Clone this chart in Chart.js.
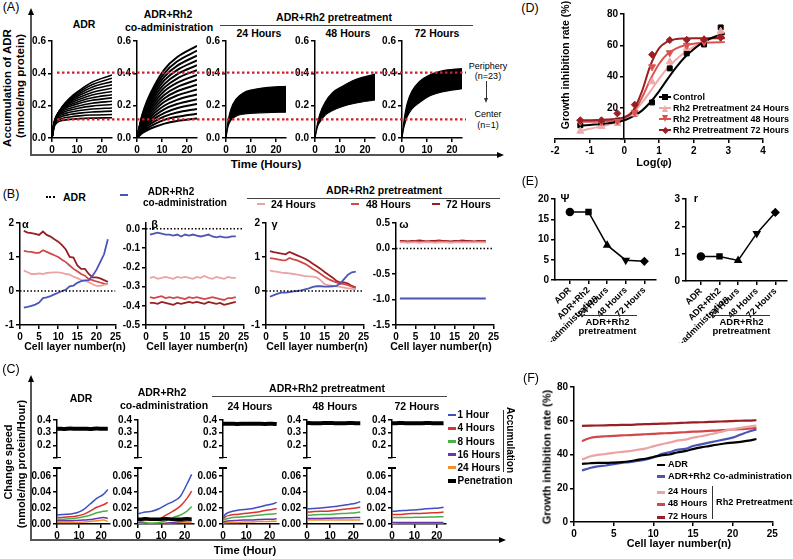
<!DOCTYPE html>
<html><head><meta charset="utf-8"><title>ADR penetration figure</title>
<script src="https://cdn.jsdelivr.net/npm/chart.js"></script>
<style>
html,body{margin:0;padding:0;background:#fff}
body{position:relative;width:793px;height:559px;overflow:hidden}
canvas{position:absolute}
.t{position:absolute;white-space:nowrap;line-height:1;color:#000;font-family:'Liberation Sans',Arial,Helvetica,sans-serif}
</style></head><body>
<script>
/* ================= DATA ================= */
// (A) accumulation of ADR (nmole/mg protein) vs time (h); one row per cell-layer curve
const aTime=[0,0.5,1,2,4,7,11,16,24];
const aXTicks=[0,10,20];
const aYTicks=[0,0.2,0.4,0.6];
const aRefPeriphery=0.405;
const aRefCenter=0.115;
const adrCurves=[
[0,.050,.075,.095,.108,.115,.120,.123,.125],
[0,.055,.083,.105,.121,.130,.137,.142,.145],
[0,.059,.089,.115,.134,.145,.154,.161,.166],
[0,.062,.095,.123,.145,.159,.170,.179,.186],
[0,.064,.099,.130,.155,.172,.186,.197,.207],
[0,.065,.102,.135,.163,.183,.200,.215,.227],
[0,.065,.104,.140,.171,.195,.215,.233,.248],
[0,.064,.104,.142,.177,.204,.228,.249,.268],
[0,.062,.103,.143,.182,.213,.240,.266,.288],
[0,.060,.101,.143,.186,.221,.252,.282,.308],
[0,.057,.097,.142,.189,.229,.264,.299,.329],
[0,.052,.093,.139,.190,.235,.275,.314,.349],
[0,.047,.087,.135,.191,.241,.286,.330,.370],
[0,.040,.080,.130,.190,.245,.295,.345,.390]];
const coCurves=[
[0,.008,.015,.029,.048,.068,.089,.105,.12],
[0,.010,.019,.036,.060,.086,.112,.131,.15],
[0,.012,.023,.043,.072,.103,.134,.158,.18],
[0,.014,.026,.050,.084,.120,.156,.184,.21],
[0,.016,.030,.058,.096,.137,.179,.210,.24],
[0,.018,.034,.065,.108,.154,.201,.236,.27],
[0,.020,.038,.072,.120,.171,.224,.263,.30],
[0,.021,.041,.079,.132,.188,.246,.289,.33],
[0,.023,.045,.086,.144,.205,.268,.315,.36],
[0,.025,.049,.094,.156,.222,.291,.341,.39],
[0,.027,.053,.101,.168,.239,.313,.368,.42],
[0,.029,.056,.108,.180,.257,.335,.394,.45],
[0,.031,.060,.115,.192,.274,.358,.420,.48],
[0,.033,.064,.122,.204,.291,.380,.446,.51],
[0,.035,.068,.130,.216,.308,.402,.473,.54],
[0,.037,.071,.137,.228,.325,.425,.499,.57]];
const pre24Low=[0,.05,.08,.11,.135,.148,.153,.157,.16];
const pre24High=[0,.07,.12,.18,.24,.28,.30,.312,.32];
const pre48Low=[0,.04,.07,.10,.14,.17,.195,.215,.235];
const pre48High=[0,.05,.09,.15,.22,.28,.32,.36,.395];
const pre72Low=[0,.05,.08,.13,.18,.22,.26,.285,.305];
const pre72High=[0,.07,.13,.21,.29,.35,.39,.415,.43];

// (B) parameters vs cell layer number
const bLayers=[1,2,3,4,5,6,7,8,9,10,11,12,13,14,15,16,17,18,19,20,21,22,23];
const bXTicks=[0,5,10,15,20,25];
const bAdrX=[0,25], bAdrY=[0,0];
const bAlphaCo=[-0.49,-0.47,-0.44,-0.40,-0.34,-0.21,-0.19,-0.15,-0.10,-0.05,0.00,0.04,0.14,0.16,0.24,0.29,0.31,0.32,0.45,0.62,0.85,1.08,1.52];
const bAlpha24=[0.60,0.55,0.50,0.50,0.52,0.50,0.53,0.54,0.55,0.55,0.53,0.50,0.48,0.42,0.38,0.33,0.30,0.26,0.20,0.15,0.15,0.18,0.20];
const bAlpha48=[1.18,1.16,1.15,1.12,1.12,1.20,1.15,1.10,1.05,1.00,0.92,0.85,0.75,0.65,0.58,0.50,0.45,0.35,0.32,0.28,0.25,0.22,0.20];
const bAlpha72=[1.77,1.72,1.70,1.68,1.65,1.75,1.65,1.60,1.52,1.45,1.35,1.22,1.00,0.98,0.75,0.65,0.65,0.50,0.40,0.40,0.37,0.32,0.27];
const bBetaCo=[-0.030,-0.025,-0.020,-0.025,-0.030,-0.030,-0.035,-0.030,-0.040,-0.030,-0.035,-0.030,-0.035,-0.040,-0.035,-0.030,-0.040,-0.045,-0.040,-0.045,-0.045,-0.040,-0.040];
const bBeta24=[-0.255,-0.250,-0.260,-0.255,-0.250,-0.255,-0.260,-0.250,-0.255,-0.250,-0.255,-0.260,-0.250,-0.255,-0.245,-0.255,-0.260,-0.250,-0.255,-0.260,-0.250,-0.255,-0.255];
const bBeta48=[-0.355,-0.360,-0.355,-0.350,-0.360,-0.355,-0.360,-0.355,-0.360,-0.365,-0.355,-0.360,-0.355,-0.360,-0.365,-0.360,-0.355,-0.360,-0.365,-0.370,-0.360,-0.360,-0.355];
const bBeta72=[-0.385,-0.385,-0.390,-0.380,-0.385,-0.390,-0.395,-0.385,-0.390,-0.385,-0.380,-0.385,-0.380,-0.385,-0.390,-0.380,-0.385,-0.390,-0.385,-0.395,-0.390,-0.385,-0.380];
const bGammaCo=[-0.17,-0.12,-0.08,-0.05,-0.05,-0.03,-0.01,0.00,0.02,0.05,0.08,0.12,0.14,0.14,0.13,0.13,0.14,0.15,0.22,0.35,0.48,0.55,0.57];
const bGamma24=[0.60,0.58,0.56,0.54,0.53,0.52,0.50,0.48,0.46,0.44,0.43,0.42,0.40,0.32,0.20,0.17,0.15,0.14,0.12,0.10,0.08,0.06,0.05];
const bGamma48=[0.97,0.95,0.93,0.91,0.90,0.97,0.93,0.90,0.85,0.80,0.73,0.65,0.58,0.50,0.42,0.35,0.30,0.25,0.22,0.20,0.17,0.13,0.08];
const bGamma72=[1.17,1.14,1.12,1.10,1.08,1.15,1.10,1.05,1.00,0.95,0.88,0.80,0.73,0.65,0.56,0.48,0.40,0.30,0.25,0.25,0.22,0.15,0.10];
const bOmegaCo=[-0.98,-0.98,-0.98,-0.98,-0.98,-0.98,-0.98,-0.98,-0.98,-0.98,-0.98,-0.98,-0.98,-0.98,-0.98,-0.98,-0.98,-0.98,-0.98,-0.98,-0.98,-0.98,-0.98];
const bOmega24=[0.12,0.12,0.11,0.12,0.12,0.11,0.12,0.12,0.12,0.11,0.12,0.12,0.12,0.11,0.12,0.12,0.12,0.12,0.12,0.12,0.12,0.12,0.12];
const bOmega48=[0.13,0.14,0.13,0.13,0.14,0.13,0.13,0.14,0.13,0.13,0.14,0.13,0.14,0.13,0.13,0.14,0.13,0.13,0.14,0.13,0.13,0.14,0.13];
const bOmega72=[0.15,0.15,0.14,0.15,0.15,0.16,0.15,0.14,0.15,0.15,0.16,0.15,0.15,0.14,0.15,0.15,0.16,0.15,0.15,0.14,0.15,0.15,0.15];

// (C) change speed vs time; rows: 1 h, 4 h, 8 h, 16 h, 24 h accumulation
const cTime=[0,1,3,6,9,12,15,18,21,23];
const cSeriesNames=['1 Hour','4 Hours','8 Hours','16 Hours','24 Hours','Penetration'];
const cAccADR=[
[.0115,.0115,.012,.0125,.014,.018,.025,.032,.037,.043],
[.008,.008,.0085,.009,.010,.012,.016,.021,.024,.027],
[.006,.006,.006,.0065,.0075,.009,.011,.014,.016,.0165],
[.004,.004,.004,.004,.0045,.005,.0055,.007,.008,.007],
[.002,.002,.002,.002,.002,.0025,.003,.004,.005,.003]];
const cPenADR=[.33,.331,.329,.332,.33,.331,.329,.332,.33,.33];
const cAccCo=[
[.013,.0135,.015,.016,.019,.024,.028,.034,.05,.062],
[.005,.005,.005,.005,.006,.011,.016,.022,.032,.041],
[.003,.003,.002,.001,.002,.004,.008,.011,.016,.022],
[.002,.002,.001,0,0,.001,.002,.003,.004,.004],
[.001,.001,.001,.001,.001,.001,.0015,.002,.002,.002]];
const cPenCo=[.006,.006,.0065,.006,.006,.0065,.006,.006,.0065,.006];
const cAcc24=[
[.008,.012,.015,.017,.018,.019,.021,.023,.025,.027],
[.006,.009,.011,.012,.013,.014,.015,.017,.018,.0195],
[.004,.006,.0075,.0085,.009,.010,.011,.012,.0125,.013],
[.002,.003,.004,.0045,.005,.005,.0055,.006,.006,.0065],
[.001,.0015,.002,.002,.0025,.0025,.003,.003,.0035,.0035]];
const cPen24=[.37,.37,.371,.369,.37,.371,.37,.369,.37,.368];
const cAcc48=[
[.019,.019,.0195,.020,.021,.022,.023,.0245,.026,.028],
[.015,.015,.0155,.016,.016,.017,.018,.019,.020,.021],
[.011,.011,.0115,.012,.012,.0125,.013,.0135,.014,.015],
[.007,.007,.007,.007,.0072,.0075,.0075,.0078,.008,.008],
[.005,.005,.005,.005,.005,.005,.005,.005,.005,.005]];
const cPen48=[.375,.376,.374,.375,.376,.375,.374,.376,.375,.375];
const cAcc72=[
[.016,.016,.0165,.017,.0175,.018,.019,.0195,.020,.021],
[.012,.012,.012,.0125,.013,.013,.0135,.014,.0145,.015],
[.008,.008,.008,.008,.0082,.0085,.0085,.0088,.009,.009],
[.002,.002,.002,.002,.002,.002,.002,.002,.002,.002],
[.0005,.0003,0,0,0,0,0,0,0,0]];
const cPen72=[.375,.374,.376,.375,.375,.374,.376,.375,.374,.375];

// (D) growth inhibition vs Log(phi)
const dPtX=[-1.27,-0.66,-0.2,0.3,0.8,1.31,1.8,2.3,2.78];
const dCtrlY=[8.8,10.2,11.7,16.2,23.4,45.2,54.8,60.5,71.4];
const d24Y=[5,8,10,16,36.6,49.4,58,64,69];
const d48Y=[11,11,11.5,17,46.2,55.2,60,62,64.7];
const d72Y=[12,12,16.4,22,54,63.3,63.5,63.7,65];
const dFitX=[-1.3,-1,-0.5,0,0.25,0.5,0.75,1,1.25,1.5,1.75,2,2.25,2.5,2.9];
const dFitCtrl=[8.5,9,10,12,14.5,18,23.5,30.5,38.5,46,52.5,57.5,61.5,64.5,67.5];
const dFit24=[5,6.5,9,13,17,23,30.5,38.5,45.5,51,55.5,59,62,64.5,68];
const dFit48=[11,11,11.5,13.5,17,26,38,48,54.5,58,60,61,61.5,61.8,62];
const dFit72=[12,12,12.5,14,18,30,47,58,62.5,64,64.3,64.5,64.5,64.5,64.5];
const dXTicks=[-2,-1,0,1,2,3,4];
const dYTicks=[0,20,40,60,80];
const dYLabels=['','20','40','60','80'];
const dLegend=['Control','Rh2 Pretreatment 24 Hours','Rh2 Pretreatment 48 Hours','Rh2 Pretreatment 72 Hours'];

// (E) psi and r per condition
const eCats=['ADR',['ADR+Rh2','Co-administration'],'24 Hours','48 Hours','72 Hours'];
const ePos=[0,1,2,3,4];
const ePsi=[16.8,16.8,8.6,4.9,4.6];
const eR=[0.9,0.9,0.75,1.74,2.51];

// (F) growth inhibition vs cell layer
const fLayers=[1,2,3,4,5,6,7,8,9,10,11,12,13,14,15,16,17,18,19,20,21,22,23];
const fADR=[34.5,34.8,35.0,35.0,35.2,35.5,36.0,36.8,37.5,38.5,39.5,40.0,41.2,42.0,43.2,44.2,45.0,45.8,46.5,47.0,47.5,48.2,49.2];
const fCo=[30.5,32.0,33.0,33.5,34.3,35.0,35.5,36.2,37.0,38.2,40.2,41.3,42.8,43.3,45.0,46.0,47.0,48.0,49.0,50.0,51.8,53.5,54.8];
const f24=[37.0,38.8,39.8,40.3,41.0,41.5,42.0,42.8,43.5,44.8,46.0,47.0,48.2,48.8,50.0,50.8,51.8,52.8,54.0,55.0,55.8,56.5,57.2];
const f48=[48.0,49.8,50.5,50.8,51.0,51.3,51.5,51.8,52.0,52.2,52.5,52.7,53.0,53.2,53.5,53.7,54.0,54.2,54.5,54.8,55.0,55.3,55.6];
const f72=[57.0,57.1,57.2,57.3,57.4,57.5,57.6,57.8,58.0,58.1,58.3,58.4,58.6,58.8,59.0,59.1,59.3,59.5,59.6,59.8,60.0,60.1,60.3];

/* ================= HELPERS ================= */
const FF="'Liberation Sans', Arial, Helvetica, sans-serif";
Chart.defaults.font.family=FF;
const COL={co:'#4b55b6',p24:'#eca3a3',p48:'#d24848',p72:'#9b1e22'};
const CC=['#3f4fbf','#db3232','#4caf47','#6b35a8','#f0902a'];

function T(x,y,s,o){o=o||{};const d=document.createElement('div');d.className='t';d.textContent=s;
  const tx=o.a==='l'?'0':(o.a==='r'?'-100%':'-50%');
  d.style.left=x+'px';d.style.top=y+'px';d.style.fontSize=(o.s||10)+'px';d.style.fontWeight=o.n?'normal':'bold';
  if(o.c)d.style.color=o.c;
  d.style.transform='translate('+tx+',-50%) rotate('+(o.r||0)+'deg)';document.body.appendChild(d);return d;}
function R(x,y,w,h,c,extra){const d=document.createElement('div');
  d.style.cssText='position:absolute;left:'+x+'px;top:'+y+'px;width:'+w+'px;height:'+h+'px;background:'+c+';'+(extra||'');
  document.body.appendChild(d);return d;}
function triUp(x,y,c,s){s=s||4;R(x-s,y,0,0,'transparent','border-left:'+s+'px solid transparent;border-right:'+s+'px solid transparent;border-bottom:'+(s*2)+'px solid '+c);}
function triDown(x,y,c,s){s=s||4;R(x-s,y-s*2,0,0,'transparent','border-left:'+s+'px solid transparent;border-right:'+s+'px solid transparent;border-top:'+(s*2)+'px solid '+c);}
function triRight(x,y,c,s){s=s||4;R(x-s*2,y-s,0,0,'transparent','border-top:'+s+'px solid transparent;border-bottom:'+s+'px solid transparent;border-left:'+(s*2)+'px solid '+c);}

const P=(xs,ys)=>xs.map((x,i)=>({x:x,y:ys[i]}));
function ln(xs,ys,col,w,extra){return Object.assign({data:P(xs,ys),borderColor:col,backgroundColor:col,borderWidth:w||1.8,
  pointRadius:0,fill:false,cubicInterpolationMode:'monotone'},extra||{});}

function axis(spec,isX,size){
  return {type:'linear',min:spec.min,max:spec.max,display:spec.show!==false,
    position:isX?'bottom':'left',
    afterBuildTicks:s=>{s.ticks=spec.ticks.map(v=>({value:v}));},
    afterFit:s=>{if(isX)s.height=size;else s.width=size;s.paddingLeft=0;s.paddingRight=0;s.paddingTop=0;s.paddingBottom=0;},
    ticks:{autoSkip:false,maxRotation:spec.rot||0,minRotation:spec.rot||0,color:'#000',padding:spec.tp!=null?spec.tp:2,
      font:{family:FF,size:spec.fs||10,weight:'bold'},
      callback:(v,i)=>spec.labels?spec.labels[i]:(spec.fmt?spec.fmt(v):String(v))},
    grid:{drawOnChartArea:false,drawTicks:true,tickLength:spec.tl!=null?spec.tl:4,color:'#000',lineWidth:1.5},
    border:{display:true,color:'#000',width:1.5}};
}
function mk(o){
  const yW=o.yW!=null?o.yW:30, xH=o.xH!=null?o.xH:16, pT=o.pT!=null?o.pT:6, pR=o.pR!=null?o.pR:6, pB=o.pB||0, pL=o.pL||0;
  const W=Math.round(o.w+yW+pR+pL), H=Math.round(o.h+pT+xH+pB);
  const c=document.createElement('canvas');c.width=W;c.height=H;
  c.style.left=(o.l-yW-pL)+'px';c.style.top=(o.t-pT)+'px';c.style.width=W+'px';c.style.height=H+'px';
  document.body.appendChild(c);
  return new Chart(c,{type:'line',data:{datasets:o.ds},options:{
    responsive:false,animation:false,devicePixelRatio:1,
    layout:{padding:{left:pL,top:pT,right:W-(o.w+yW+pL),bottom:pB}},
    plugins:{legend:{display:false},tooltip:{enabled:false}},
    scales:{x:axis(o.x,true,xH),y:axis(o.y,false,yW)}}});
}

/* ================= PANEL A ================= */
T(11,7,'(A)',{n:1,s:12.5});
R(30,14,2,141,'#555');triUp(31,8,'#000',3.5);
R(30,154,468,2,'#555');triRight(504,155,'#000',3.5);
T(84,24,'ADR',{s:10.5});
T(168,14,'ADR+Rh2',{s:10.5});T(169,27,'co-administration',{s:10.5});
T(334,17,'ADR+Rh2 pretreatment',{s:10.5});R(220,24.5,253,1,'#444');
T(259,33,'24 Hours',{s:10.5});T(348,33,'48 Hours',{s:10.5});T(437,33,'72 Hours',{s:10.5});
T(266,165,'Time (Hours)',{s:11.5});
T(8,88,'Accumulation of ADR',{r:-90,s:11.5});T(21,86,'(nmole/mg protein)',{r:-90,s:11.5});
T(488,66,'Periphery',{n:1,s:9});T(488,76,'(n=23)',{n:1,s:9});
R(486,81,1,17,'#333');triDown(486.5,103,'#333',2.5);
T(488,114,'Center',{n:1,s:9});T(488,125,'(n=1)',{n:1,s:9});

const aL=[52,137,226,315,402], aW=60;
const aPanels=[{curves:adrCurves,w:1.6},{curves:coCurves,w:2},{low:pre24Low,high:pre24High},{low:pre48Low,high:pre48High},{low:pre72Low,high:pre72High}];
function refDs(y,xa,xb){return {data:[{x:xa,y:y},{x:xb,y:y}],borderColor:'#d0202a',borderWidth:2.2,borderDash:[2.5,2.5],clip:false,pointRadius:0,fill:false};}
aPanels.forEach((p,i)=>{
  const pxu=aW/24;
  const xa=i===0?2:-(aL[i]-aL[i-1]-aW)/pxu;
  const xb=i===4?(466-aL[4])/pxu:24;
  const ds=[refDs(aRefPeriphery,xa,xb),refDs(aRefCenter,xa,xb)];
  if(p.curves)p.curves.forEach(c=>ds.push(ln(aTime,c,'#000',p.w)));
  else{ds.push(ln(aTime,p.low,'#000',1.2));ds.push(ln(aTime,p.high,'#000',1.2,{fill:'-1'}));}
  mk({l:aL[i],t:40.5,w:aW,h:97,yW:30,pR:i===4?9:4,
    x:{min:0,max:24,ticks:aXTicks},y:{min:0,max:0.6,ticks:aYTicks,fmt:v=>v.toFixed(1)},ds:ds});
});

/* ================= PANEL B ================= */
T(11,194,'(B)',{n:1,s:12.5});
R(46,196,9,0,'transparent','border-top:2px dotted #000');T(63,197,'ADR',{a:'l',s:10.5});
R(120,194,8,2,COL.co);T(171,191.5,'ADR+Rh2',{s:10});T(185,203,'co-administration',{s:10});
T(384,190,'ADR+Rh2 pretreatment',{s:10.5});R(247,197.5,253,1,'#444');
R(257,203,8,2,COL.p24);T(271,204,'24 Hours',{a:'l',s:10.5});
R(351,203,8,2,COL.p48);T(366,204,'48 Hours',{a:'l',s:10.5});
R(432,203,8,2,COL.p72);T(446,204,'72 Hours',{a:'l',s:10.5});
const bPanels=[
 {l:19.5,w:95.5,yW:18,y:{min:-1,max:2,ticks:[-1,0,1,2]},co:bAlphaCo,s24:bAlpha24,s48:bAlpha48,s72:bAlpha72,g:'α',gx:25.5,tx:75},
 {l:145.7,w:97.6,yW:30,y:{min:-0.5,max:0.03,ticks:[-0.5,-0.4,-0.3,-0.2,-0.1,0],fmt:v=>v.toFixed(1)},co:bBetaCo,s24:bBeta24,s48:bBeta48,s72:bBeta72,g:'β',gx:154.5,tx:197},
 {l:265.7,w:97.6,yW:18,y:{min:-1,max:2,ticks:[-1,0,1,2]},co:bGammaCo,s24:bGamma24,s48:bGamma48,s72:bGamma72,g:'γ',gx:274.5,tx:317},
 {l:396,w:97.6,yW:30,y:{min:-1.5,max:0.5,ticks:[-1.5,-1,-0.5,0,0.5],fmt:v=>v.toFixed(1)},co:bOmegaCo,s24:bOmega24,s48:bOmega48,s72:bOmega72,g:'ω',gx:404,tx:441}
];
bPanels.forEach(p=>{
  const st={cubicInterpolationMode:'default',tension:0};
  mk({l:p.l,t:223,w:p.w,h:102,yW:p.yW,pR:6,x:{min:0,max:25,ticks:bXTicks},y:p.y,
   ds:[ln(bAdrX,bAdrY,'#000',1.3,{borderDash:[1.5,2]}),
       ln(bLayers,p.co,COL.co,1.8,st),ln(bLayers,p.s24,COL.p24,1.8,st),
       ln(bLayers,p.s48,COL.p48,1.8,st),ln(bLayers,p.s72,COL.p72,1.8,st)]});
  T(p.gx,224,p.g,{s:11});
  T(p.tx,346,'Cell layer number(n)',{s:10.5});
});

/* ================= PANEL C ================= */
T(11,369,'(C)',{n:1,s:12.5});
R(30,381,2,160,'#555');triUp(31,375,'#000',3.5);
R(30,539,470,2,'#555');triRight(506,540,'#000',3.5);
T(81,398,'ADR',{s:10.5});
T(162,392,'ADR+Rh2',{s:10.5});T(164,405,'co-administration',{s:10.5});
T(327,388,'ADR+Rh2 pretreatment',{s:10.5});R(212,395.5,235,1,'#444');
T(250,406,'24 Hours',{s:10.5});T(335,406,'48 Hours',{s:10.5});T(417,406,'72 Hours',{s:10.5});
T(245,551,'Time (Hour)',{s:11.2});
T(8,462,'Change speed',{r:-90,s:11});T(21,464,'(nmole/mg protein/Hour)',{r:-90,s:11});
const cLegY=[415,428.3,441.5,454.5,467.5,481];
cSeriesNames.forEach((nm,i)=>{
  R(448,cLegY[i]-(i===5?1.75:1.25),8,i===5?3.5:2.5,i===5?'#000':CC[i]);
  T(457.5,cLegY[i],nm,{a:'l',s:10});
});
R(503,410,1,62,'#333');T(510,440,'Accumulation',{r:90,s:10});

const cL=[57,138.3,223,306.7,391.7], cW=[53,56,56,55.6,53.8];
const cAcc=[cAccADR,cAccCo,cAcc24,cAcc48,cAcc72];
const cPen=[cPenADR,cPenCo,cPen24,cPen48,cPen72];
cL.forEach((l,i)=>{
  mk({l:l,t:420,w:cW[i],h:37.5,yW:30,xH:0,pB:4,pR:4,
    x:{min:0,max:24,ticks:[0,10,20],show:false},
    y:{min:0.1,max:0.4,ticks:[0.1,0.2,0.3,0.4],labels:['','0.2','0.3','0.4']},
    ds:i===1?[]:[ln(cTime,cPen[i],'#000',4)]});
  R(l-4,456.8,8,1.5,'#000'); // axis-break cap
  R(l-4,467.3,8,1.5,'#000');
  const ds=[];
  if(i===1)ds.push(ln(cTime,cPen[i],'#000',3.5));
  cAcc[i].forEach((row,k)=>ds.push(ln(cTime,row,CC[k],1.5)));
  mk({l:l,t:468,w:cW[i],h:56,yW:30,pR:4,
    x:{min:0,max:24,ticks:[0,10,20]},
    y:{min:0,max:0.07,ticks:[0,0.02,0.04,0.06,0.07],labels:['0.00','0.02','0.04','0.06','']},ds:ds});
});

/* ================= PANEL D ================= */
T(530,8,'(D)',{n:1,s:12.5});
const dL=555, dW=208, dT=14, dH=125;
const dX0=dL+dW*(0-(-2))/6; // pixel of Log(phi)=0, where the y axis crosses
mk({l:dL,t:dT,w:dW,h:dH,yW:0,pL:10,pR:12,xH:16,
  x:{min:-2,max:4,ticks:dXTicks},
  y:{min:0,max:80,ticks:dYTicks,show:false},
  ds:[
   ln(dPtX,d72Y,COL.p72,1,{showLine:false,pointRadius:3.5,pointStyle:'rectRot'}),
   ln(dPtX,d48Y,'#d9534f',1,{showLine:false,pointRadius:4,pointStyle:'triangle',pointRotation:180}),
   ln(dPtX,d24Y,'#f0a8a8',1,{showLine:false,pointRadius:4,pointStyle:'triangle'}),
   ln(dPtX,dCtrlY,'#000',1,{showLine:false,pointRadius:3.5,pointStyle:'rect'}),
   ln(dFitX,dFitCtrl,'#000',2),
   ln(dFitX,dFit72,COL.p72,2),
   ln(dFitX,dFit48,'#d9534f',2),
   ln(dFitX,dFit24,'#f0a8a8',2)
  ]});
mk({l:dX0,t:dT,w:dL+dW-dX0,h:dH,yW:30,pR:2,xH:0,pB:2,
  x:{min:0,max:4,ticks:[],show:false},
  y:{min:0,max:80,ticks:dYTicks,labels:dYLabels},ds:[]});
T(565,65,'Growth inhibition rate (%)',{r:-90,s:10.5});
T(654,162,'Log(φ)',{s:11});
const dLegY=[97,108,118.5,130], dLegC=['#000','#f0a8a8','#d9534f',COL.p72];
dLegend.forEach((nm,i)=>{
  R(659,dLegY[i]-1,12,2,dLegC[i]);
  if(i===0)R(662,dLegY[i]-3,6,6,'#000');
  else if(i===1)triUp(665,dLegY[i]-3.5,dLegC[i],3.5);
  else if(i===2)triDown(665,dLegY[i]+3.5,dLegC[i],3.5);
  else R(662.5,dLegY[i]-2.5,5,5,dLegC[i],'transform:rotate(45deg)');
  T(673,dLegY[i],nm,{a:'l',s:9});
});

/* ================= PANEL E ================= */
T(530,181,'(E)',{n:1,s:12.5});
const eMarks=['circle','rect','triangle','triangle','rectRot'];
const eRot=[0,0,0,180,0];
function eDs(vals){return {data:P(ePos,vals),borderColor:'#000',backgroundColor:'#000',borderWidth:1.5,tension:0,
  pointStyle:eMarks,pointRotation:eRot,pointRadius:3.5,pointBackgroundColor:'#000',pointBorderColor:'#000',fill:false};}
mk({l:555,t:199.3,w:101.5,h:81.4,yW:24,xH:62,pT:8,pR:4,pL:30,
  x:{min:-0.8,max:4.6,ticks:ePos,labels:eCats,rot:45,fs:9,tp:1},
  y:{min:0,max:20,ticks:[0,5,10,15,20]},ds:[eDs(ePsi)]});
mk({l:685.7,t:199.3,w:101.5,h:81.7,yW:18,xH:62,pT:8,pR:4,pL:30,
  x:{min:-0.8,max:4.6,ticks:ePos,labels:eCats,rot:45,fs:9,tp:1},
  y:{min:0,max:3,ticks:[0,1,2,3]},ds:[eDs(eR)]});
T(565,198,'Ψ',{s:11});T(696,198,'r',{s:11});
R(578,315,59,1,'#333');T(607.5,322,'ADR+Rh2',{s:9.5});T(607.5,331,'pretreatment',{s:9.5});
R(713,315,57,1,'#333');T(741.5,322,'ADR+Rh2',{s:9.5});T(741.5,331,'pretreatment',{s:9.5});

/* ================= PANEL F ================= */
T(531,378,'(F)',{n:1,s:12.5});
mk({l:574,t:387.3,w:198.3,h:135.4,yW:24,pR:10,
  x:{min:0,max:25,ticks:[0,5,10,15,20,25]},y:{min:0,max:80,ticks:[0,20,40,60,80]},
  ds:[ln(fLayers,fADR,'#000',2.2),ln(fLayers,fCo,COL.co,2.2),ln(fLayers,f24,COL.p24,2.2),ln(fLayers,f48,COL.p48,2.2),ln(fLayers,f72,COL.p72,2.2)]});
T(547,457,'Growth inhibition rate (%)',{r:-90,s:11});
T(679,543,'Cell layer number(n)',{s:10.8});
const fLegY=[465,476.7,492.3,504.3,517.3];
const fLegN=['ADR','ADR+Rh2 Co-administration','24 Hours','48 Hours','72 Hours'];
const fLegC=['#000',COL.co,COL.p24,COL.p48,COL.p72];
fLegN.forEach((nm,i)=>{R(657,fLegY[i]-1.25,8,2.5,fLegC[i]);T(668,fLegY[i],nm,{a:'l',s:9.2});});
R(712,486,1,33,'#333');T(716,503,'Rh2 Pretreatment',{a:'l',s:9.2});
</script>
</body></html>
